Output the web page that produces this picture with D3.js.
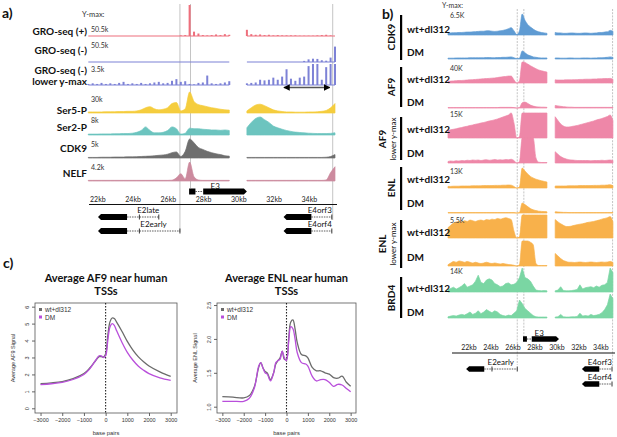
<!DOCTYPE html>
<html><head><meta charset="utf-8">
<script src="https://cdn.jsdelivr.net/npm/d3@7"></script>
<style>body{margin:0;background:#fff}svg{display:block}</style>
</head><body><svg id="c" width="617" height="437"></svg>
<script>
// ---------- DATA: panel a (bins of 0.25 kb starting at 21.9 kb; % of track y-max) ----------
const aBinStart = 21.9, aBinStep = 0.25;
const aTrackLabels = [["GRO-seq (+)"],["GRO-seq (-)"],["GRO-seq (-)","lower y-max"],["Ser5-P"],["Ser2-P"],["CDK9"],["NELF"]];
const aYmax = ["50.5k","50.5k","3.5k","30k","8k","5k","4.2k"];
const groPlus = [0,0,0,0,0,0,0,0,0,0, 0,0,0,0,0,0,0,0,0,0, 0,2,3,100,14,8,3,2,3,5, 3,6,4,null,null,null,20,6,4,5, 3,4,2,3,2,2,2,2,1,1, 1,1,2,3,4,2,0];
const groMinus = [0,0,0,0,0,0,0,0,0,0, 0,0,0,0,0,0,0,0,0,0, 0,0,0,0,0,0,0,0,0,0, 0,0,0,null,null,null,0,0,0,0, 0,0,0,0,0,0,0,0,0,5, 12,15,14,8,6,20,70];
const groMinusLow = [5,8,5,10,5,8,5,10,15,5, 8,5,10,5,8,12,15,8,10,20, 28,15,18,5,3,10,12,45,8,5, 8,12,18,null,null,null,8,10,12,25, 22,25,35,25,40,75,30,20,35,40, 90,100,100,25,85,100,100];
const ser5 = [5,5,5,5,6,6,6,7,7,8, 8,10,15,25,30,20,15,18,25,45, 50,10,20,100,55,40,35,30,25,22, 18,15,14,null,null,null,10,25,38,42, 35,25,15,10,7,5,5,4,4,4, 5,5,6,8,12,25,45];
const ser2 = [5,5,5,6,6,6,7,7,8,8, 10,15,25,45,25,12,12,15,25,45, 35,5,10,38,35,35,32,30,28,28, 26,28,25,null,null,null,40,70,92,100, 85,70,50,40,32,25,20,16,14,12, 10,9,8,8,8,9,12];
const cdk9A = [3,3,3,4,4,4,5,5,5,6, 6,7,8,9,10,12,14,16,20,28, 32,8,35,100,80,55,45,35,28,22, 18,12,10,null,null,null,3,3,3,3, 3,3,3,3,3,3,3,3,3,3, 3,3,3,3,4,8,18];
const nelf = [3,3,3,3,3,3,3,3,3,3, 3,3,3,3,3,3,3,3,3,4, 15,35,10,90,20,5,3,3,3,3, 3,3,3,null,null,null,3,3,3,3, 3,3,3,3,3,3,3,3,3,3, 3,3,3,3,5,40,68];

// ---------- DATA: panel b (bins of 0.25 kb starting at 20.8 kb; % of track y-max) ----------
const bBinStart = 20.8, bBinStep = 0.25;
const bGroups = ["CDK9","AF9","AF9|lower y-max","ENL","ENL|lower y-max","BRD4"];
const bRows = ["wt+dl312","DM"];
const bYmax = ["6.5K","40K","15K","13K","5.5K","14K"];
const cdk9Wt = [10,10,11,11,12,12,13,14,14,15, 16,17,18,18,20,20,18,17,18,20, 22,25,30,35,20,2,20,100,70,50, 38,28,20,15,12,10,8,null,null,12, 10,10,8,8,9,10,9,8,8,9, 10,9,8,9,10,12,12,14,15,22, 18];
const cdk9Dm = [4,4,4,5,5,5,5,5,6,6, 6,6,6,6,7,7,6,6,7,7, 8,8,9,10,6,2,4,38,30,20, 15,10,8,6,5,5,5,null,null,5, 5,4,4,4,5,5,4,4,4,5, 5,5,4,5,5,6,6,7,8,10, 8];
const af9Wt = [8,9,10,11,12,12,13,14,15,16, 17,18,19,20,21,22,23,24,26,28, 30,31,33,33,15,0,10,100,98,90, 82,75,68,62,58,55,52,null,null,15, 14,14,14,15,15,15,16,16,17,17, 18,18,18,19,19,20,20,21,21,22, 18];
const af9Dm = [2,2,2,2,2,2,2,2,2,2, 2,2,2,2,2,2,2,2,2,3, 3,3,3,3,2,0,2,25,28,22, 14,9,6,5,4,4,3,null,null,12, 10,8,6,5,4,4,3,3,3,3, 3,3,3,3,3,3,3,3,3,3, 3];
const af9LowWt = [30,33,35,37,40,42,45,47,50,52, 55,57,60,62,65,68,70,73,76,80, 84,88,92,100,60,0,5,100,100,100, 100,100,100,100,100,100,100,null,null,85, 70,56,48,44,44,46,48,50,53,56, 59,62,65,68,72,75,78,82,86,92, 70];
const af9LowDm = [6,8,7,9,8,10,9,11,10,12, 11,12,10,12,13,11,12,14,12,13, 12,14,13,15,10,0,5,100,100,100, 100,100,20,3,2,2,2,null,null,45, 35,26,20,16,13,12,11,10,10,10, 10,10,9,10,10,10,11,10,11,12, 10];
const enlWt = [8,8,9,9,9,10,10,10,10,11, 11,11,11,12,12,12,12,13,13,13, 14,14,15,14,8,0,5,100,85,70, 58,50,44,40,36,33,30,null,null,10, 10,10,10,10,11,11,11,11,12,12, 12,12,12,13,13,13,14,14,15,16, 12];
const enlDm = [2,2,2,2,2,2,2,2,2,2, 2,2,2,2,2,2,2,2,2,2, 2,2,2,2,2,0,2,50,42,32, 22,16,12,9,8,7,6,null,null,6, 5,4,3,3,2,2,2,2,2,2, 2,2,2,2,2,2,2,2,2,2, 2];
const enlLowWt = [45,55,65,70,72,70,75,72,78,75, 72,76,78,75,80,78,82,80,85,82, 85,88,85,80,30,0,5,100,100,100, 100,100,100,100,100,100,100,null,null,80, 70,62,55,50,50,52,55,58,60,62, 65,68,70,72,75,78,82,85,88,93, 70];
const enlLowDm = [5,12,18,15,20,18,15,18,15,12, 15,12,10,12,15,12,10,12,10,8, 10,8,6,5,3,0,5,100,100,100, 95,85,10,2,2,2,2,null,null,50, 40,30,22,18,15,15,14,15,16,15, 14,15,16,15,14,15,16,15,16,18, 14];
const brd4Wt = [10,15,20,12,18,25,35,20,25,30, 45,70,40,35,50,55,50,35,30,22, 25,35,38,30,32,40,60,100,60,55, 45,25,8,6,5,6,5,null,null,5, 8,22,6,5,5,6,8,10,30,12, 18,20,22,18,25,20,28,30,40,100, 80];
const brd4Dm = [5,8,10,8,12,15,12,18,25,15, 20,30,18,25,35,28,22,30,25,15, 10,8,12,10,20,30,75,60,40,30, 20,10,5,4,4,4,4,null,null,4, 5,15,5,4,4,5,5,6,20,8, 10,8,15,10,12,15,22,35,55,100, 80];

// ---------- DATA: genes (kb) ----------
const geneNames = ["E3","E2late","E2early","E4orf3","E4orf4"];
const geneStrand = [1,-1,-1,-1,-1];
const geneExons = [[[27.62,27.98],[28.42,30.9]],[[22.45,24.1]],[[22.45,24.1]],[[32.98,34.56]],[[32.98,34.56]]];
const geneIntrons = [[[27.98,28.42]],[[24.1,25.9]],[[24.1,27.1]],[[34.56,35.72]],[[34.56,35.72]]];
const geneTicks = [[],[24.8,25.9],[24.8,27.1],[35.72],[35.72]];
const geneLabelKb = [29.1,25.3,25.6,35.72,35.72];
const markerKb = [27.1,27.7,35.77];
const kbTicks = [22,24,26,28,30,32,34];

// ---------- DATA: panel c ----------
const afX  = [-3000,-2500,-2000,-1500,-1000,-750,-500,-300,-200,-100,0,100,200,300,400,500,750,1000,1250,1500,1750,2000,2500,3000];
const afProfWt = [1.45,1.5,1.58,1.75,2.05,2.35,2.75,3.05,3.05,3.02,3.2,4.3,5.1,5.33,5.3,5.1,4.55,3.95,3.45,3.05,2.75,2.5,2.15,1.88];
const afProfDm = [1.4,1.45,1.53,1.7,2.0,2.3,2.75,3.1,3.1,3.0,3.1,4.0,4.8,5.0,4.9,4.6,3.9,3.3,2.85,2.5,2.25,2.05,1.8,1.65];
const enlX  = [-3000,-2500,-2000,-1750,-1500,-1300,-1200,-1100,-1000,-900,-750,-600,-500,-400,-300,-200,-100,0,100,200,300,400,500,700,900,1000,1200,1400,1600,1800,2000,2200,2400,2600,2800,3000];
const enlProfWt = [1.15,1.14,1.13,1.16,1.3,1.58,1.65,1.57,1.52,1.5,1.4,1.5,1.63,1.68,1.72,1.82,1.7,1.7,2.0,2.25,2.28,2.15,1.95,1.77,1.75,1.72,1.58,1.53,1.53,1.5,1.48,1.43,1.42,1.45,1.36,1.3];
const enlProfDm = [1.08,1.08,1.08,1.12,1.28,1.6,1.65,1.57,1.5,1.48,1.38,1.5,1.65,1.68,1.7,1.82,1.72,1.68,1.95,2.18,2.15,2.0,1.8,1.65,1.63,1.6,1.45,1.38,1.4,1.4,1.36,1.3,1.33,1.32,1.27,1.22];
const legendLabels = ["wt+dl312","DM"];

// ---------- DRAWING ----------
const LF = "Lato, 'Open Sans', Arial, sans-serif";
const RF = "'Liberation Sans', Arial, sans-serif";
const svg = d3.select("#c");

function txt(x,y,s,size,opt={}) {
  const t = svg.append("text").attr("x",x).attr("y",y).text(s)
    .attr("font-family",opt.font||LF).attr("font-size",size)
    .attr("font-weight",opt.bold?"bold":"normal").attr("fill",opt.fill||"#111")
    .attr("text-anchor",opt.anchor||"start");
  if (opt.rot) t.attr("transform",`rotate(${opt.rot},${x},${y})`);
  return t;
}

function track(xs,start,step,vals,base,h,color,kind) {
  const y = d3.scaleLinear().domain([0,100]).range([base,base-h]).clamp(true);
  const pts = vals.map((v,i)=>({k:start+step*i,v}));
  if (kind==="bar") {
    const line = d3.line().defined(d=>d.v!=null).x(d=>xs(d.k)).y(base);
    svg.append("path").datum(pts).attr("d",line).attr("stroke",color).attr("stroke-width",1.2).attr("fill","none");
    svg.append("g").selectAll("rect").data(pts.filter(d=>d.v)).enter().append("rect")
      .attr("x",d=>xs(d.k)-1).attr("width",2).attr("y",d=>y(d.v)).attr("height",d=>base-y(d.v)).attr("fill",color);
  } else {
    const area = d3.area().defined(d=>d.v!=null).x(d=>xs(d.k)).y0(base).y1(d=>y(d.v))
      .curve(kind==="lin"?d3.curveLinear:d3.curveMonotoneX);
    svg.append("path").datum(pts).attr("d",area).attr("fill",color).attr("stroke",color).attr("stroke-width",0.7);
  }
}

function gene(xs,gi,yRow,eh,labelDy) {
  const g = svg.append("g");
  geneIntrons[gi].forEach(([a,b])=>g.append("line").attr("x1",xs(a)).attr("x2",xs(b)).attr("y1",yRow).attr("y2",yRow)
    .attr("stroke","#333").attr("stroke-width",0.8).attr("stroke-dasharray","1.5,1"));
  geneTicks[gi].forEach(k=>g.append("line").attr("x1",xs(k)).attr("x2",xs(k)).attr("y1",yRow-2.5).attr("y2",yRow+2.5)
    .attr("stroke","#222").attr("stroke-width",0.9));
  const ex = geneExons[gi], s = geneStrand[gi];
  ex.forEach(([a,b],j)=>{
    const x0=xs(a), x1=xs(b), t=yRow-eh/2, bt=yRow+eh/2;
    let p;
    if (s<0 && j===0) p=[[x0,yRow],[x0+3,t],[x1,t],[x1,bt],[x0+3,bt]];
    else if (s>0 && j===ex.length-1) p=[[x0,t],[x1-3,t],[x1,yRow],[x1-3,bt],[x0,bt]];
    else p=[[x0,t],[x1,t],[x1,bt],[x0,bt]];
    g.append("polygon").attr("points",p.map(q=>q.join(",")).join(" ")).attr("fill","#000");
  });
  const anchor = geneLabelKb[gi] > 35 ? "end" : "middle";
  txt(xs(geneLabelKb[gi]), yRow+labelDy, geneNames[gi], 8, {anchor});
}

function vlines(xs,top,bottoms,dash) {
  markerKb.forEach((k,i)=>svg.append("line").attr("x1",xs(k)).attr("x2",xs(k)).attr("y1",top).attr("y2",bottoms[i])
    .attr("stroke","#bdbdbd").attr("stroke-width",0.9).attr("stroke-dasharray",dash||null));
}

// ===== Panel a =====
const xa = d3.scaleLinear().domain([21.94,35.9]).range([89,335]);
txt(2,18,"a)",14,{bold:true});
txt(82,16.5,"Y-max:",7.5,{fill:"#333"});
vlines(xa,4,[232,188,220]);
const aSeries = [groPlus,groMinus,groMinusLow,ser5,ser2,cdk9A,nelf];
const aColors = ["#ee6f7c","#7d82d6","#7d82d6","#f5cd3e","#6cc4bf","#6e6e6e","#cc8a9e"];
const aBase = [36,62,85,113,135,158,181];
const aH = [31,22,21,21,18,19,21];
const aKind = ["bar","bar","bar","mono","mono","mono","mono"];
const aLabelY = [[34.5],[53.5],[73.5,84.5],[114],[131],[152],[177]];
const aYmaxY = [31.5,48,71.5,101.5,123,146.5,170];
aSeries.forEach((v,i)=>{
  track(xa,aBinStart,aBinStep,v,aBase[i],aH[i],aColors[i],aKind[i]);
  aTrackLabels[i].forEach((s,j)=>txt(87,aLabelY[i][j],s,10,{bold:true,anchor:"end"}));
  txt(91,aYmaxY[i],aYmax[i],7,{fill:"#333"});
});
svg.append("defs").html('<marker id="ah" viewBox="0 0 10 10" refX="9" refY="5" markerWidth="5" markerHeight="5" orient="auto-start-reverse"><path d="M0,0L10,5L0,10z" fill="#000"/></marker>');
svg.append("line").attr("x1",xa(33.0)).attr("x2",xa(35.6)).attr("y1",87.5).attr("y2",87.5).attr("stroke","#555").attr("stroke-width",1.3)
  .attr("marker-start","url(#ah)").attr("marker-end","url(#ah)");
svg.append("line").attr("x1",89).attr("x2",337).attr("y1",204.5).attr("y2",204.5).attr("stroke","#111").attr("stroke-width",1.1);
kbTicks.forEach(k=>txt(xa(k),201.5,k+"kb",7,{fill:"#222"}));
gene(xa,0,191.5,6,-3);
gene(xa,1,217,6,-4);
gene(xa,2,231,6,-4);
gene(xa,3,217,6,-4);
gene(xa,4,231,6,-4);

// ===== Panel b =====
const xb = d3.scaleLinear().domain([20.8,35.9]).range([448,614]);
txt(382,19,"b)",14,{bold:true});
txt(442,7.5,"Y-max:",7,{fill:"#333"});
vlines(xb,9,[365,336,366],"2,1.2");
const bSeries = [cdk9Wt,cdk9Dm,af9Wt,af9Dm,af9LowWt,af9LowDm,enlWt,enlDm,enlLowWt,enlLowDm,brd4Wt,brd4Dm];
const bColors = ["#5f9bd3","#ee87a8","#ee87a8","#f8b14b","#f8b14b","#7ad6a3"];
const bBase = [35,59,83,108,138,163,188,213,238,266,292,318];
const bH = [21,21,21,21,25,25,20,20,23,25,24,24];
const bRowLabelY = [33,55.5,83,105.5,133,157,183,206.5,236,261,291.5,315.5];
const bYmaxY = [18,70.5,117,174,222.5,274];
const bBar = [[15,60],[67,107],[117,160],[167,210],[220,268],[277,318]];
const bGroupLabelY = [37,87,139,188,244,298];
bSeries.forEach((v,i)=>{
  const gi = Math.floor(i/2);
  track(xb,bBinStart,bBinStep,v,bBase[i],bH[i],bColors[gi],gi===5?"lin":"mono");
  txt(407,bRowLabelY[i],bRows[i%2],10,{bold:true});
});
bGroups.forEach((gname,gi)=>{
  svg.append("rect").attr("x",400).attr("y",bBar[gi][0]).attr("width",2.2).attr("height",bBar[gi][1]-bBar[gi][0]).attr("fill","#000");
  txt(450,bYmaxY[gi],bYmax[gi],7,{fill:"#333"});
  const parts = gname.split("|");
  if (parts.length===1) txt(395,bGroupLabelY[gi],parts[0],10,{bold:true,anchor:"middle",rot:-90});
  else {
    txt(386,bGroupLabelY[gi],parts[0],10,{bold:true,anchor:"middle",rot:-90});
    txt(396,bGroupLabelY[gi],parts[1],8,{anchor:"middle",rot:-90});
  }
});
svg.append("line").attr("x1",452).attr("x2",615).attr("y1",353).attr("y2",353).attr("stroke","#111").attr("stroke-width",1.1);
kbTicks.forEach(k=>txt(xb(k),349.5,k+"kb",7,{fill:"#222"}));
gene(xb,0,339,5.5,-3.5);
gene(xb,2,369,5.5,-4);
gene(xb,3,369,5.5,-4);
gene(xb,4,384,5.5,-4);

// ===== Panel c =====
txt(3,268,"c)",14,{bold:true});
const purple = "#b94fdb", grayc = "#6b6b6b";
function profile(o) {
  const x = d3.scaleLinear().domain(o.xd).range([o.x0,o.x1]);
  const y = d3.scaleLinear().domain(o.yd).range([413,303]);
  txt((o.x0+o.x1)/2,282,o.title[0],11,{bold:true,anchor:"middle"});
  txt((o.x0+o.x1)/2,295,o.title[1],11,{bold:true,anchor:"middle"});
  const gx = svg.append("g").attr("transform","translate(0,413)")
    .call(d3.axisBottom(x).tickValues([-3000,-2000,-1000,0,1000,2000,3000]).tickSize(3).tickPadding(2).tickFormat(d3.format("d")));
  gx.select(".domain").remove();
  gx.selectAll("text").attr("font-size",5.5).attr("font-family",RF).attr("fill","#333");
  gx.selectAll("line").attr("stroke","#666");
  const gy = svg.append("g").attr("transform",`translate(${o.x0},0)`)
    .call(d3.axisLeft(y).tickValues(o.yt).tickSize(3).tickFormat(o.yf));
  gy.select(".domain").remove();
  gy.selectAll("line").attr("stroke","#666");
  gy.selectAll("text").attr("font-size",5.5).attr("font-family",RF).attr("fill","#333")
    .attr("transform","rotate(-90)").attr("x",0).attr("y",-6).attr("dy",0).attr("text-anchor","middle");
  svg.append("rect").attr("x",o.x0).attr("y",303).attr("width",o.x1-o.x0).attr("height",110)
    .attr("fill","none").attr("stroke","#555").attr("stroke-width",0.8);
  svg.append("line").attr("x1",x(0)).attr("x2",x(0)).attr("y1",303).attr("y2",413)
    .attr("stroke","#222").attr("stroke-width",1.1).attr("stroke-dasharray","1.5,1.5");
  const ln = arr => d3.line().x((d,i)=>x(o.xs[i])).y(d=>y(d)).curve(d3.curveCatmullRom)(arr);
  svg.append("path").attr("d",ln(o.wt)).attr("fill","none").attr("stroke",grayc).attr("stroke-width",1.3);
  svg.append("path").attr("d",ln(o.dm)).attr("fill","none").attr("stroke",purple).attr("stroke-width",1.3);
  [grayc,purple].forEach((c,i)=>{
    svg.append("rect").attr("x",o.x0+4).attr("y",308+i*7.5).attr("width",3).attr("height",3).attr("fill",c);
    txt(o.x0+10,312+i*7.5,legendLabels[i],6.5,{font:RF,fill:"#333"});
  });
  txt(o.x0-20,358,o.ytitle,5.5,{font:RF,anchor:"middle",rot:-90,fill:"#333"});
  txt((o.x0+o.x1)/2,435,"base pairs",5.8,{font:RF,anchor:"middle",fill:"#333"});
}
profile({x0:35,x1:177,xd:[-3255,3290],yd:[-0.277,6.216],yt:[0,1,2,3,4,5,6],yf:d3.format("d"),
  title:["Average AF9 near human","TSSs"],xs:afX,wt:afProfWt,dm:afProfDm,ytitle:"Average AF9 Signal"});
profile({x0:217,x1:356,xd:[-3250,3250],yd:[0.907,2.53],yt:[1,1.5,2,2.5],yf:d3.format(".1f"),
  title:["Average ENL near human","TSSs"],xs:enlX,wt:enlProfWt,dm:enlProfDm,ytitle:"Average ENL Signal"});
</script>
</body></html>
